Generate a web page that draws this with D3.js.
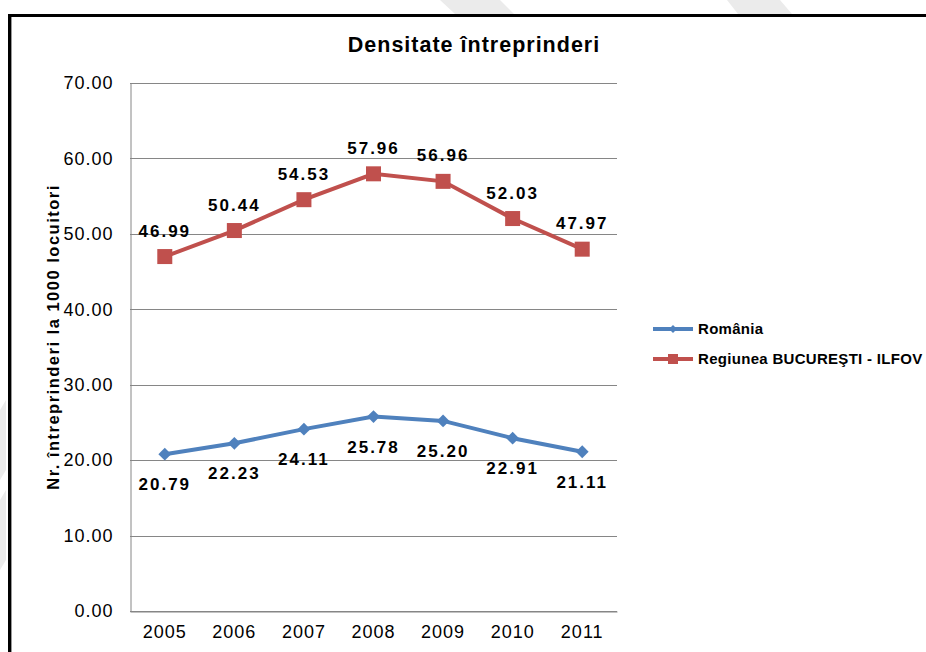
<!DOCTYPE html>
<html>
<head>
<meta charset="utf-8">
<script src="https://cdn.jsdelivr.net/npm/d3@7"></script>
<style>
  body { margin: 0; background: #fff; }
  text { font-family: "Liberation Sans", Arial, sans-serif; }
</style>
</head>
<body>
<div id="chart"></div>
<script>
// data
var years = ["2005", "2006", "2007", "2008", "2009", "2010", "2011"]
var romania = [20.79, 22.23, 24.11, 25.78, 25.20, 22.91, 21.11]
var bucuresti = [46.99, 50.44, 54.53, 57.96, 56.96, 52.03, 47.97]
var seriesNames = ["România", "Regiunea BUCUREŞTI - ILFOV"]
var yTicks = [0, 10, 20, 30, 40, 50, 60, 70]

var svgWidth = 926
var svgHeight = 652

var plot = { left: 130, right: 617, top: 83, bottom: 611 }

var svg = d3.select("#chart")
  .append("svg")
  .attr("width", svgWidth)
  .attr("height", svgHeight)

// faint watermark shapes behind the frame
var wm = [
  [[440, 0], [500, 0], [514, 14], [455, 14]],
  [[727, 0], [780, 0], [792, 14], [738, 14]],
  [[0, 410], [6, 400], [6, 470], [0, 480]],
  [[0, 500], [6, 490], [6, 560], [0, 570]]
]
svg.selectAll(".wm")
  .data(wm)
  .enter()
  .append("polygon")
  .attr("points", d => d.map(p => p.join(",")).join(" "))
  .attr("fill", "#ebebeb")

// frame
svg.append("rect")
  .attr("x", 9.5).attr("y", 15.5)
  .attr("width", 940).attr("height", 660)
  .attr("fill", "none")
  .attr("stroke", "#000")
  .attr("stroke-width", 3)
svg.append("line")
  .attr("x1", 11.5).attr("x2", 11.5).attr("y1", 17).attr("y2", 652)
  .attr("stroke", "#999").attr("stroke-width", 1)

var x = d3.scaleBand()
  .domain(years)
  .range([plot.left, plot.right])

var y = d3.scaleLinear()
  .domain([0, 70])
  .range([plot.bottom, plot.top])

// gridlines
svg.append("g")
  .selectAll("line")
  .data(yTicks)
  .enter()
  .append("line")
  .attr("x1", plot.left)
  .attr("x2", plot.right)
  .attr("y1", d => Math.round(y(d)) + 0.5)
  .attr("y2", d => Math.round(y(d)) + 0.5)
  .attr("stroke", "#868686")
  .attr("stroke-width", 1)

// axes
var leftAxis = d3.axisLeft(y)
  .tickValues(yTicks)
  .tickFormat(d3.format(".2f"))
  .tickSize(0)
  .tickPadding(17)

var yAxis = svg.append("g")
  .attr("transform", `translate(${plot.left + 0.5}, 0)`)
  .call(leftAxis)
yAxis.select(".domain").attr("stroke", "#868686")
yAxis.selectAll("text")
  .attr("font-size", 18)
  .attr("letter-spacing", 1)
  .attr("fill", "#000")
  .style("font-family", "Liberation Sans, Arial, sans-serif")

var bottomAxis = d3.axisBottom(x).tickSize(0).tickPadding(14)
var xAxis = svg.append("g")
  .attr("transform", `translate(0, ${Math.round(y(0)) + 0.5})`)
  .call(bottomAxis)
xAxis.select(".domain").attr("stroke", "#868686")
xAxis.selectAll("text")
  .attr("font-size", 18)
  .attr("letter-spacing", 1)
  .attr("fill", "#000")
  .style("font-family", "Liberation Sans, Arial, sans-serif")

var cx = d => x(d) + x.bandwidth() / 2

var line = d3.line()
  .x((d, i) => cx(years[i]))
  .y(d => y(d))

// red series
svg.append("path")
  .datum(bucuresti)
  .attr("d", line)
  .attr("fill", "none")
  .attr("stroke", "#C0504D")
  .attr("stroke-width", 4)

svg.selectAll(".sq")
  .data(bucuresti)
  .enter()
  .append("rect")
  .attr("x", (d, i) => cx(years[i]) - 7.5)
  .attr("y", d => y(d) - 7.5)
  .attr("width", 15)
  .attr("height", 15)
  .attr("fill", "#C0504D")

svg.selectAll(".lblR")
  .data(bucuresti)
  .enter()
  .append("text")
  .attr("x", (d, i) => cx(years[i]))
  .attr("y", d => y(d) - 20)
  .attr("text-anchor", "middle")
  .attr("font-size", 17)
  .attr("letter-spacing", 2)
  .attr("font-weight", "bold")
  .text(d => d.toFixed(2))

// blue series
svg.append("path")
  .datum(romania)
  .attr("d", line)
  .attr("fill", "none")
  .attr("stroke", "#4F81BD")
  .attr("stroke-width", 4)

var diamond = d3.symbol().type(d3.symbolDiamond2).size(105)
svg.selectAll(".dm")
  .data(romania)
  .enter()
  .append("path")
  .attr("d", diamond)
  .attr("transform", (d, i) => `translate(${cx(years[i])}, ${y(d)})`)
  .attr("fill", "#4F81BD")

svg.selectAll(".lblB")
  .data(romania)
  .enter()
  .append("text")
  .attr("x", (d, i) => cx(years[i]))
  .attr("y", d => y(d) + 36)
  .attr("text-anchor", "middle")
  .attr("font-size", 17)
  .attr("letter-spacing", 2)
  .attr("font-weight", "bold")
  .text(d => d.toFixed(2))

// title
svg.append("text")
  .attr("x", 474)
  .attr("y", 52)
  .attr("text-anchor", "middle")
  .attr("font-size", 21.5)
  .attr("letter-spacing", 1)
  .attr("font-weight", "bold")
  .text("Densitate întreprinderi")

// y label
svg.append("text")
  .attr("transform", "translate(59, 337) rotate(-90)")
  .attr("text-anchor", "middle")
  .attr("font-size", 16.5)
  .attr("letter-spacing", 1.5)
  .attr("font-weight", "bold")
  .text("Nr. întreprinderi la 1000 locuitori")

// legend
var legend = svg.append("g")
var legendColors = ["#4F81BD", "#C0504D"]
seriesNames.forEach(function(name, i) {
  var ly = 329 + i * 30
  legend.append("line")
    .attr("x1", 653).attr("x2", 693)
    .attr("y1", ly).attr("y2", ly)
    .attr("stroke", legendColors[i])
    .attr("stroke-width", 4)
  if (i === 0) {
    legend.append("path")
      .attr("d", d3.symbol().type(d3.symbolDiamond2).size(40))
      .attr("transform", `translate(673, ${ly})`)
      .attr("fill", legendColors[i])
  } else {
    legend.append("rect")
      .attr("x", 668).attr("y", ly - 5)
      .attr("width", 10).attr("height", 10)
      .attr("fill", legendColors[i])
  }
  legend.append("text")
    .attr("x", 698)
    .attr("y", ly + 5)
    .attr("font-size", 15)
    .attr("letter-spacing", 0.3)
    .attr("font-weight", "bold")
    .text(name)
})
</script>
</body>
</html>
